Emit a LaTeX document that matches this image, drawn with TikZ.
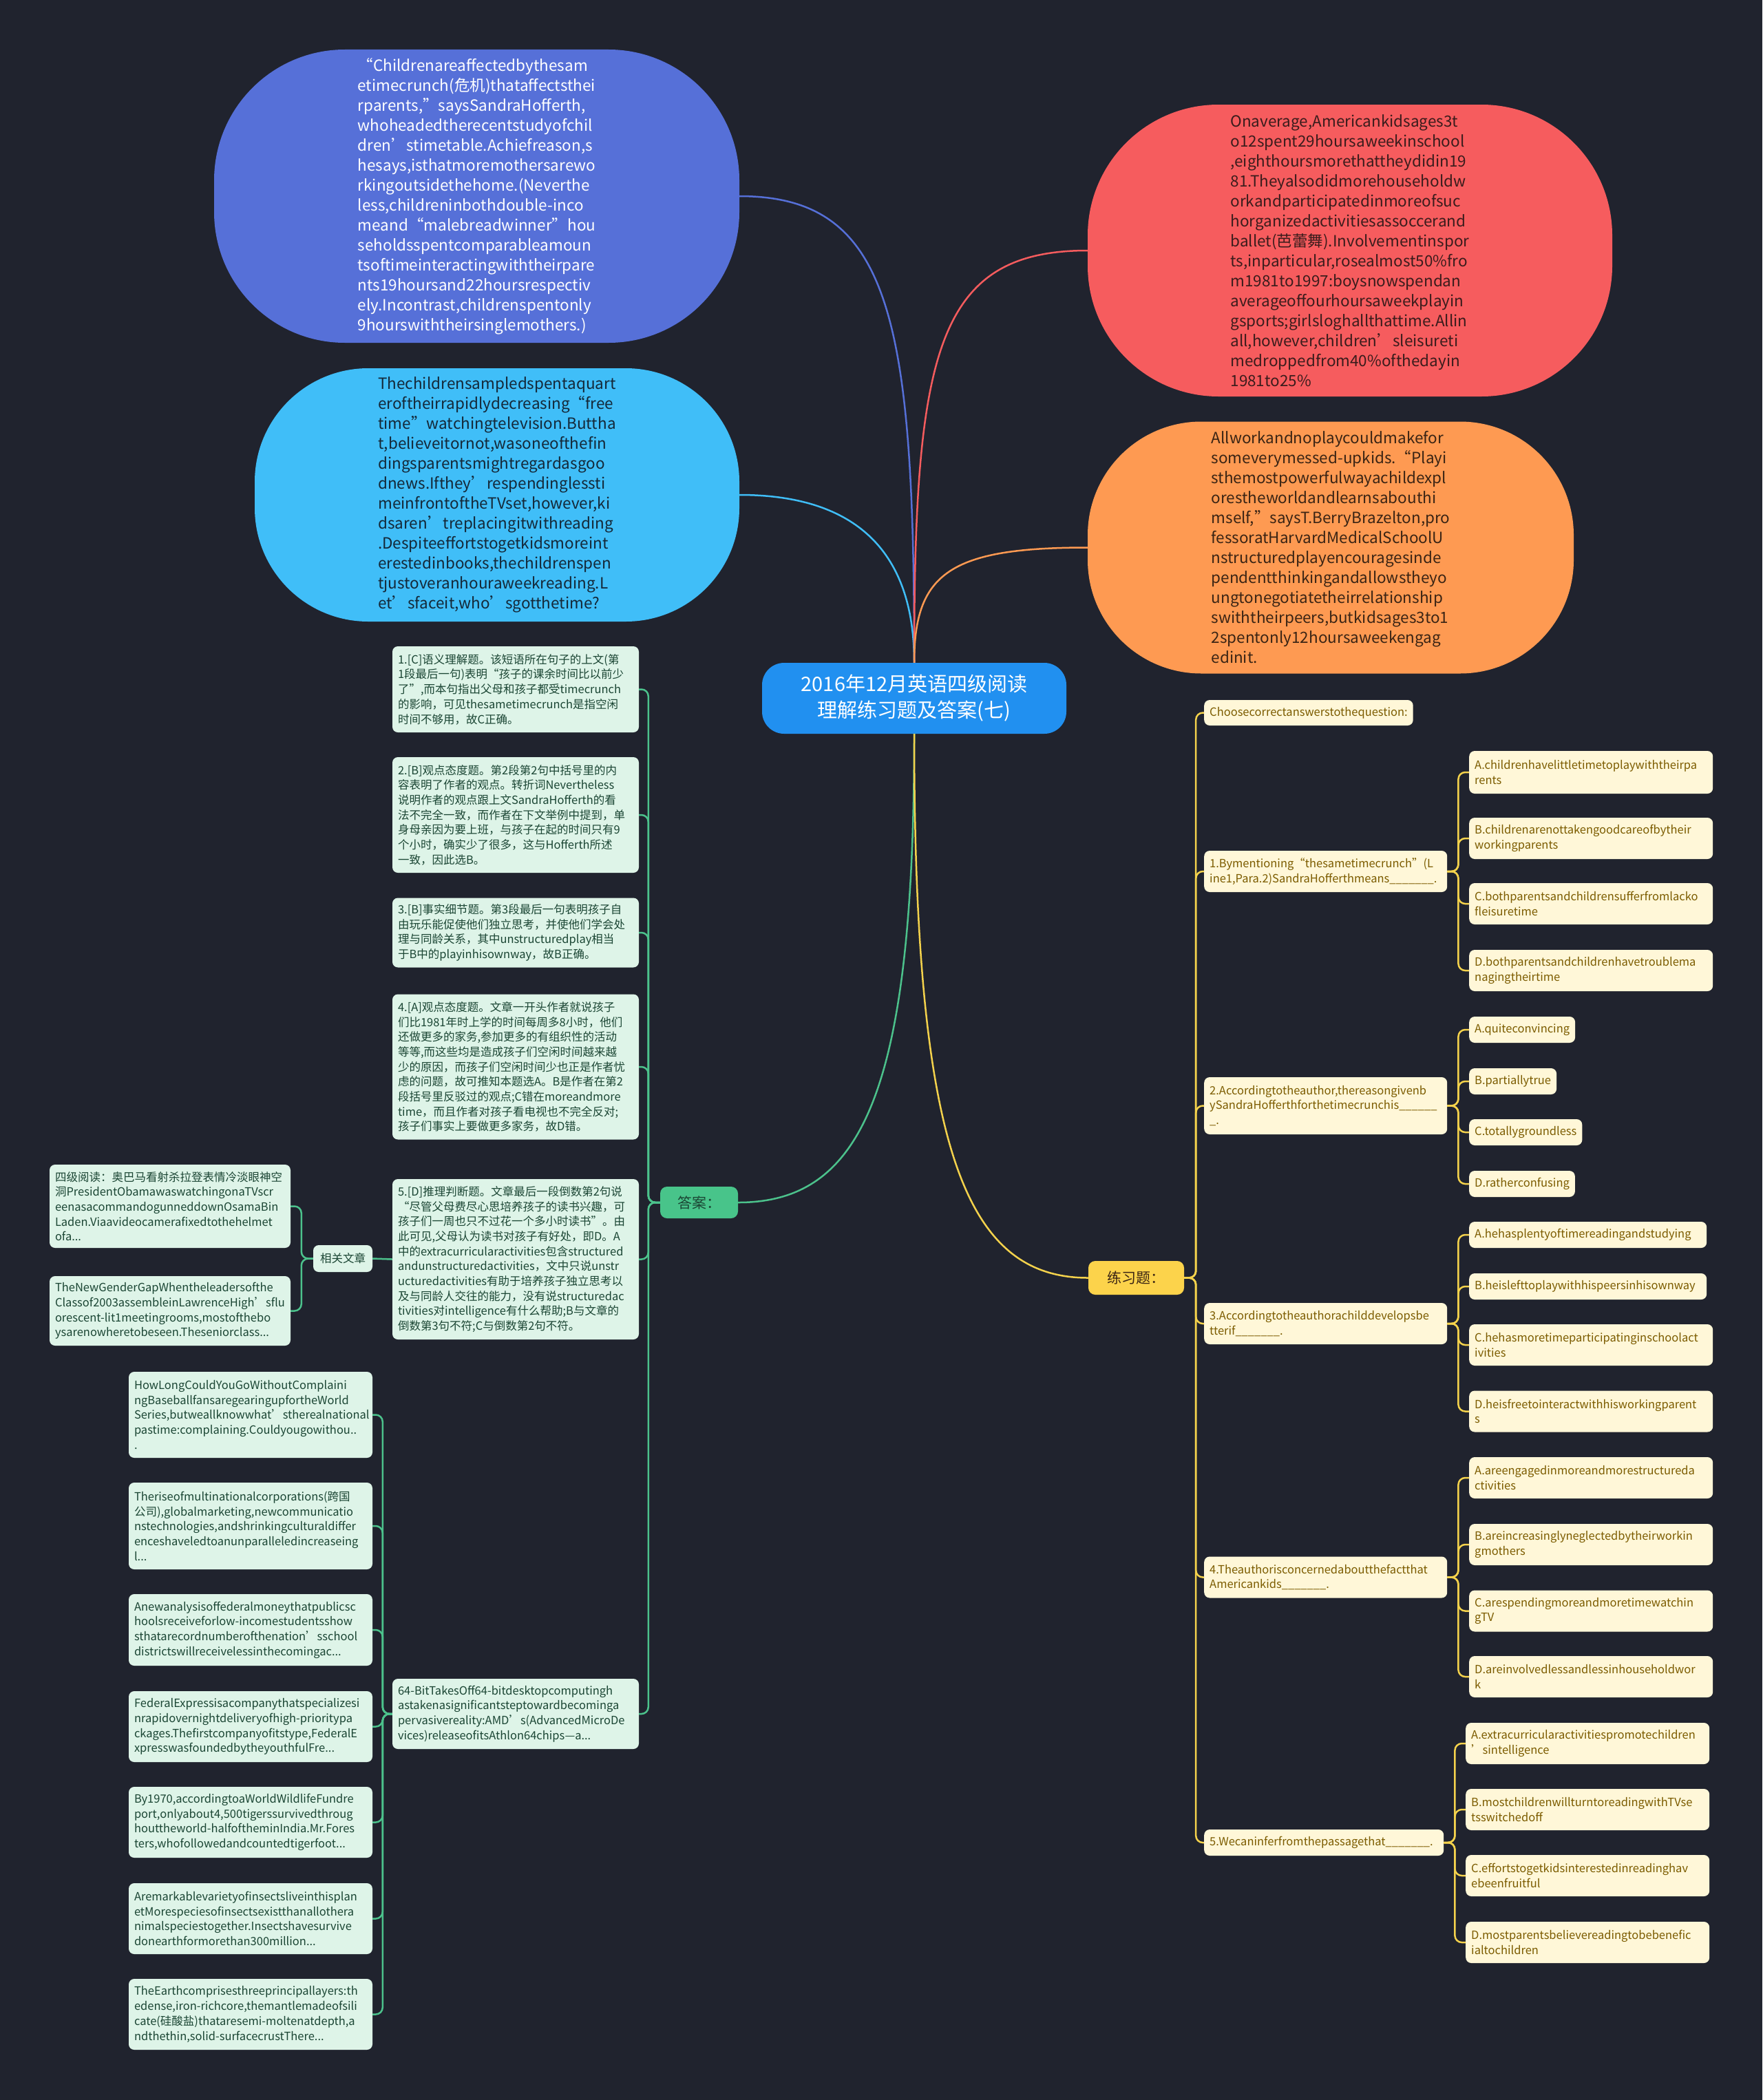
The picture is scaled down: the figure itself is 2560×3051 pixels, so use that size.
\documentclass[tikz,border=0pt]{standalone}
\usepackage{fontspec}
\setmainfont{Noto Sans CJK SC}
\usetikzlibrary{positioning,calc}

\definecolor{bgdark}{HTML}{20232E}
\definecolor{hubblue}{HTML}{2190F0}
\definecolor{bblue}{HTML}{5670D8}
\definecolor{bcyan}{HTML}{40BEF8}
\definecolor{bred}{HTML}{F65C5E}
\definecolor{borange}{HTML}{FE9A52}
\definecolor{cyantext}{HTML}{142838}
\definecolor{redtext}{HTML}{3A1C1C}
\definecolor{orangetext}{HTML}{3A2414}
\definecolor{lgreen}{HTML}{4CC28C}
\definecolor{lyellow}{HTML}{F4D24C}
\definecolor{mint}{HTML}{DEF4E8}
\definecolor{minttext}{HTML}{1B4634}
\definecolor{cream}{HTML}{FFF7D8}
\definecolor{creamtext}{HTML}{7C5C00}
\definecolor{tagyellow}{HTML}{FCD34B}
\definecolor{taggreen}{HTML}{48C48A}

\hyphenpenalty=10000
\exhyphenpenalty=10000
\hfuzz=1000pt
\hbadness=10000

\begin{document}
\begin{tikzpicture}[x=1pt, y=-1pt,
    bubble/.style={align=left, inner sep=0pt, font=\fontsize{22.5}{29}\selectfont},
    hub/.style={fill=hubblue, text=white, rounded corners=32pt, minimum width=442pt, minimum height=103pt, align=center, font=\fontsize{29}{38}\selectfont},
    tag/.style={rounded corners=10pt, inner sep=0pt, font=\fontsize{21}{26}\selectfont},
    ans/.style={fill=mint, text=minttext, rounded corners=8pt, align=left, inner sep=8pt, font=\fontsize{16.5}{21.7}\selectfont},
    que/.style={fill=cream, text=creamtext, rounded corners=8pt, align=left, inner sep=8pt, font=\fontsize{16.5}{21.7}\selectfont},
    curve/.style={line width=2.5pt},
    elbow/.style={line width=2.5pt, rounded corners=10pt}
]
\useasboundingbox (0,0) rectangle (2560,3051);
\fill[bgdark] (0,0) rectangle (2560,3051);

\node[bubble, fill=bblue, text=white, rounded corners=190pt, minimum width=763pt, minimum height=426pt] (quote) at (692.5,285) {“Childrenareaffectedbythesam\\etimecrunch(危机)thataffectsthei\\rparents,”saysSandraHofferth,\\whoheadedtherecentstudyofchil\\dren’stimetable.Achiefreason,s\\hesays,isthatmoremothersarewo\\rkingoutsidethehome.(Neverthe\\less,childreninbothdouble-inco\\meand“malebreadwinner”hou\\seholdsspentcomparableamoun\\tsoftimeinteractingwiththeirpare\\nts19hoursand22hoursrespectiv\\ely.Incontrast,childrenspentonly\\9hourswiththeirsinglemothers.)};
\node[bubble, fill=bcyan, text=cyantext, rounded corners=165pt, minimum width=704pt, minimum height=368pt] (tv) at (722,719) {Thechildrensampledspentaquart\\eroftheirrapidlydecreasing“free\\time”watchingtelevision.Buttha\\t,believeitornot,wasoneofthefin\\dingsparentsmightregardasgoo\\dnews.Ifthey’respendinglessti\\meinfrontoftheTVset,however,ki\\dsaren’treplacingitwithreading\\.Despiteeffortstogetkidsmoreint\\erestedinbooks,thechildrenspen\\tjustoveranhouraweekreading.L\\et’sfaceit,who’sgotthetime?};
\node[bubble, fill=bred, text=redtext, rounded corners=190pt, minimum width=762pt, minimum height=424pt] (stats) at (1961,364) {Onaverage,Americankidsages3t\\o12spent29hoursaweekinschool\\,eighthoursmorethattheydidin19\\81.Theyalsodidmorehouseholdw\\orkandparticipatedinmoreofsuc\\horganizedactivitiesassoccerand\\ballet(芭蕾舞).Involvementinspor\\ts,inparticular,rosealmost50\%fro\\m1981to1997:boysnowspendan\\averageoffourhoursaweekplayin\\gsports;girlsloghallthattime.Allin\\all,however,children’sleisureti\\medroppedfrom40\%ofthedayin\\1981to25\%};
\node[bubble, fill=borange, text=orangetext, rounded corners=165pt, minimum width=706pt, minimum height=366pt] (play) at (1933,795.5) {Allworkandnoplaycouldmakefor\\someverymessed-upkids.“Playi\\sthemostpowerfulwayachildexpl\\orestheworldandlearnsabouthi\\mself,”saysT.BerryBrazelton,pro\\fessoratHarvardMedicalSchoolU\\nstructuredplayencouragesinde\\pendentthinkingandallowstheyo\\ungtonegotiatetheirrelationship\\swiththeirpeers,butkidsages3to1\\2spentonly12hoursaweekengag\\edinit.};

\node[hub] (hub) at (1328,1014.5) {2016年12月英语四级阅读\\理解练习题及答案(七)};

\node[tag, fill=taggreen, text=minttext, minimum width=113pt, minimum height=46pt] (ans) at (1015.5,1747) {答案：};
\node[tag, fill=tagyellow, text=orangetext, minimum width=139pt, minimum height=49pt] (drill) at (1650.5,1856.5) {练习题：};

\node[ans, text width=342pt, minimum height=125pt] (a1) at (749,1001.5) {1.[C]语义理解题。该短语所在句子的上文(第\\1段最后一句)表明“孩子的课余时间比以前少\\了”,而本句指出父母和孩子都受timecrunch\\的影响，可见thesametimecrunch是指空闲\\时间不够用，故C正确。};
\node[ans, text width=342pt, minimum height=168pt] (a2) at (749,1184) {2.[B]观点态度题。第2段第2句中括号里的内\\容表明了作者的观点。转折词Nevertheless\\说明作者的观点跟上文SandraHofferth的看\\法不完全一致，而作者在下文举例中提到，单\\身母亲因为要上班，与孩子在起的时间只有9\\个小时，确实少了很多，这与Hofferth所述\\一致，因此选B。};
\node[ans, text width=342pt, minimum height=101pt] (a3) at (749,1355) {3.[B]事实细节题。第3段最后一句表明孩子自\\由玩乐能促使他们独立思考，并使他们学会处\\理与同龄关系，其中unstructuredplay相当\\于B中的playinhisownway，故B正确。};
\node[ans, text width=342pt, minimum height=211pt] (a4) at (749,1550) {4.[A]观点态度题。文章一开头作者就说孩子\\们比1981年时上学的时间每周多8小时，他们\\还做更多的家务,参加更多的有组织性的活动\\等等,而这些均是造成孩子们空闲时间越来越\\少的原因，而孩子们空闲时间少也正是作者忧\\虑的问题，故可推知本题选A。B是作者在第2\\段括号里反驳过的观点;C错在moreandmore\\time，而且作者对孩子看电视也不完全反对;\\孩子们事实上要做更多家务，故D错。};
\node[ans, text width=342pt, minimum height=233pt] (a5) at (749,1829.5) {5.[D]推理判断题。文章最后一段倒数第2句说\\“尽管父母费尽心思培养孩子的读书兴趣，可\\孩子们一周也只不过花一个多小时读书”。由\\此可见,父母认为读书对孩子有好处，即D。A\\中的extracurricularactivities包含structured\\andunstructuredactivities，文中只说unstr\\ucturedactivities有助于培养孩子独立思考以\\及与同龄人交往的能力，没有说structuredac\\tivities对intelligence有什么帮助;B与文章的\\倒数第3句不符;C与倒数第2句不符。};
\node[ans, text width=342pt, minimum height=102pt] (b64) at (749,2490) {64-BitTakesOff64-bitdesktopcomputingh\\astakenasignificantsteptowardbecominga\\pervasivereality:AMD's(AdvancedMicroDe\\vices)releaseofitsAthlon64chips—a...};

\node[ans, minimum width=86pt, minimum height=39pt, align=center] (rel) at (498,1828.5) {相关文章};
\node[ans, text width=334pt, minimum height=121pt] (s1) at (247,1752.5) {四级阅读：奥巴马看射杀拉登表情冷淡眼神空\\洞PresidentObamawaswatchingonaTVscr\\eenasacommandogunneddownOsamaBin\\Laden.Viaavideocamerafixedtothehelmet\\ofa...};
\node[ans, text width=334pt, minimum height=101pt] (s2) at (247,1904.5) {TheNewGenderGapWhentheleadersofthe\\Classof2003assembleinLawrenceHigh'sflu\\orescent-lit1meetingrooms,mostofthebo\\ysarenowheretobeseen.Theseniorclass...};

\node[ans, text width=338pt, minimum height=125pt] (l1) at (364,2055.5) {HowLongCouldYouGoWithoutComplaini\\ngBaseballfansaregearingupfortheWorld\\Series,butweallknowwhat'stherealnational\\pastime:complaining.Couldyougowithou..\\.};
\node[ans, text width=338pt, minimum height=126pt] (l2) at (364,2217) {Theriseofmultinationalcorporations(跨国\\公司),globalmarketing,newcommunicatio\\nstechnologies,andshrinkingculturaldiffer\\enceshaveledtoanunparalleledincreaseing\\l...};
\node[ans, text width=338pt, minimum height=104pt] (l3) at (364,2368) {Anewanalysisoffederalmoneythatpublicsc\\hoolsreceiveforlow-incomestudentsshow\\sthatarecordnumberofthenation’sschool\\districtswillreceivelessinthecomingac...};
\node[ans, text width=338pt, minimum height=103pt] (l4) at (364,2508.5) {FederalExpressisacompanythatspecializesi\\nrapidovernightdeliveryofhigh-prioritypa\\ckages.Thefirstcompanyofitstype,FederalE\\xpresswasfoundedbytheyouthfulFre...};
\node[ans, text width=338pt, minimum height=103pt] (l5) at (364,2647.5) {By1970,accordingtoaWorldWildlifeFundre\\port,onlyabout4,500tigerssurvivedthroug\\houttheworld-halfoftheminIndia.Mr.Fores\\ters,whofollowedandcountedtigerfoot...};
\node[ans, text width=338pt, minimum height=103pt] (l6) at (364,2787.5) {Aremarkablevarietyofinsectsliveinthisplan\\etMorespeciesofinsectsexistthanallothera\\nimalspeciestogether.Insectshavesurvive\\donearthformorethan300million...};
\node[ans, text width=338pt, minimum height=103pt] (l7) at (364,2926.5) {TheEarthcomprisesthreeprincipallayers:th\\edense,iron-richcore,themantlemadeofsili\\cate(硅酸盐)thataresemi-moltenatdepth,a\\ndthethin,solid-surfacecrustThere...};

\node[que, anchor=west, minimum height=37pt] (q0) at (1749,1035.5) {Choosecorrectanswerstothequestion:};
\node[que, anchor=west, text width=337pt, minimum height=60pt] (q1) at (1749,1266) {1.Bymentioning“thesametimecrunch”(L\\ine1,Para.2)SandraHofferthmeans\_\_\_\_\_\_\_.};
\node[que, anchor=west, text width=337pt, minimum height=83pt] (q2) at (1749,1606.5) {2.Accordingtotheauthor,thereasongivenb\\ySandraHofferthforthetimecrunchis\_\_\_\_\_\_\\\_.};
\node[que, anchor=west, text width=337pt, minimum height=60pt] (q3) at (1749,1923) {3.Accordingtotheauthorachilddevelopsbe\\tterif\_\_\_\_\_\_\_.};
\node[que, anchor=west, text width=337pt, minimum height=60pt] (q4) at (1749,2291.5) {4.Theauthorisconcernedaboutthefactthat\\Americankids\_\_\_\_\_\_\_.};
\node[que, anchor=west, text width=332pt, minimum height=38pt] (q5) at (1749,2677) {5.Wecaninferfromthepassagethat\_\_\_\_\_\_\_.};

\node[que, anchor=west, text width=338pt, minimum height=62pt] (q1A) at (2134,1122) {A.childrenhavelittletimetoplaywiththeirpa\\rents};
\node[que, anchor=west, text width=338pt, minimum height=60pt] (q1B) at (2134,1218) {B.childrenarenottakengoodcareofbytheir\\workingparents};
\node[que, anchor=west, text width=338pt, minimum height=60pt] (q1C) at (2134,1313) {C.bothparentsandchildrensufferfromlacko\\fleisuretime};
\node[que, anchor=west, text width=338pt, minimum height=60pt] (q1D) at (2134,1410) {D.bothparentsandchildrenhavetroublema\\nagingtheirtime};

\node[que, anchor=west, minimum height=38pt] (q2A) at (2134,1496) {A.quiteconvincing};
\node[que, anchor=west, minimum height=38pt] (q2B) at (2134,1571) {B.partiallytrue};
\node[que, anchor=west, minimum height=38pt] (q2C) at (2134,1645) {C.totallygroundless};
\node[que, anchor=west, minimum height=38pt] (q2D) at (2134,1720) {D.ratherconfusing};

\node[que, anchor=west, text width=329pt, minimum height=38pt] (q3A) at (2134,1794) {A.hehasplentyoftimereadingandstudying};
\node[que, anchor=west, text width=329pt, minimum height=38pt] (q3B) at (2134,1869) {B.heislefttoplaywithhispeersinhisownway};
\node[que, anchor=west, text width=338pt, minimum height=60pt] (q3C) at (2134,1954) {C.hehasmoretimeparticipatinginschoolact\\ivities};
\node[que, anchor=west, text width=338pt, minimum height=60pt] (q3D) at (2134,2050.5) {D.heisfreetointeractwithhisworkingparent\\s};

\node[que, anchor=west, text width=338pt, minimum height=60pt] (q4A) at (2134,2147) {A.areengagedinmoreandmorestructureda\\ctivities};
\node[que, anchor=west, text width=338pt, minimum height=60pt] (q4B) at (2134,2244) {B.areincreasinglyneglectedbytheirworkin\\gmothers};
\node[que, anchor=west, text width=338pt, minimum height=60pt] (q4C) at (2134,2340.5) {C.arespendingmoreandmoretimewatchin\\gTV};
\node[que, anchor=west, text width=338pt, minimum height=60pt] (q4D) at (2134,2436) {D.areinvolvedlessandlessinhouseholdwor\\k};

\node[que, anchor=west, text width=338pt, minimum height=60pt] (q5A) at (2129,2533) {A.extracurricularactivitiespromotechildren\\’sintelligence};
\node[que, anchor=west, text width=338pt, minimum height=60pt] (q5B) at (2129,2629) {B.mostchildrenwillturntoreadingwithTVse\\tsswitchedoff};
\node[que, anchor=west, text width=338pt, minimum height=60pt] (q5C) at (2129,2725) {C.effortstogetkidsinterestedinreadinghav\\ebeenfruitful};
\node[que, anchor=west, text width=338pt, minimum height=60pt] (q5D) at (2129,2822) {D.mostparentsbelievereadingtobebenefic\\ialtochildren};

\draw[curve, bblue] (hub.north) .. controls +(0,-500) and +(220,0) .. (quote.east);
\draw[curve, bcyan] (hub.north) .. controls +(0,-170) and +(160,0) .. (tv.east);
\draw[curve, bred] (hub.north) .. controls +(0,-450) and +(-220,0) .. (stats.west);
\draw[curve, borange] (hub.north) .. controls +(0,-130) and +(-200,0) .. (play.west);
\draw[curve, lgreen] (hub.south) .. controls +(0,520) and +(180,0) .. (ans.east);
\draw[curve, lyellow] (hub.south) .. controls +(0,600) and +(-180,0) .. (drill.west);

\foreach \n in {a1,a2,a3,a4,a5,b64}
  \draw[elbow, lgreen] (ans.west) -- ++(-17,0) |- (\n.east);
\draw[elbow, lgreen] (a5.west) -- (rel.east);
\foreach \n in {s1,s2}
  \draw[elbow, lgreen] (rel.west) -- ++(-17,0) |- (\n.east);
\foreach \n in {l1,l2,l3,l4,l5,l6,l7}
  \draw[elbow, lgreen] (b64.west) -- ++(-14,0) |- (\n.east);
\foreach \n in {q0,q1,q2,q3,q4,q5}
  \draw[elbow, lyellow] (drill.east) -- ++(17,0) |- (\n.west);
\foreach \q in {1,...,5}
  \foreach \o in {A,B,C,D}
    \draw[elbow, lyellow] (q\q.east) -- ++(16,0) |- (q\q\o.west);
\end{tikzpicture}
\end{document}
